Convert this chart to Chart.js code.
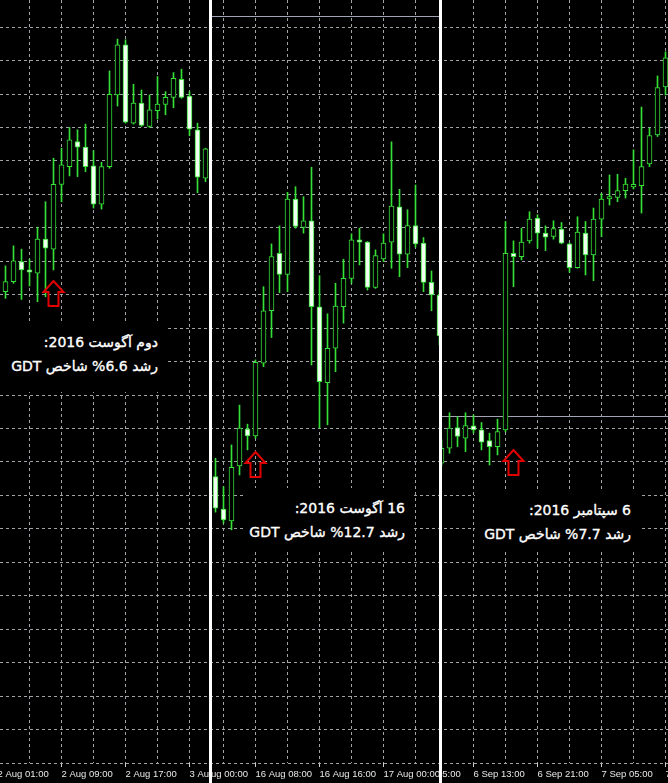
<!DOCTYPE html>
<html>
<head>
<meta charset="utf-8">
<script src="https://cdn.jsdelivr.net/npm/chart.js@4.4.1/dist/chart.umd.min.js"></script>
<style>
html,body{margin:0;padding:0;background:#000;}
#stage{position:relative;width:668px;height:783px;overflow:hidden;background:#000;}
.panel{position:absolute;top:0;height:783px;overflow:hidden;}
.panel canvas{position:absolute;top:0;}
.sep{position:absolute;top:0;width:3px;height:783px;background:#fff;}
.note{position:absolute;background:#000;color:#fff;direction:rtl;text-align:right;
  font-family:"DejaVu Sans",sans-serif;font-size:14px;line-height:24px;box-sizing:border-box;white-space:nowrap;
  -webkit-text-stroke:0.35px #fff;}
</style>
</head>
<body>
<div id="stage"></div>
<script>
// ---------- DATA ----------
// Panel 1: NZDUSD H1, 2 Aug 2016 (candle 0 = 2 Aug 02:00)
const aug2Open  = [0.71409,0.71439,0.71499,0.71474,0.71464,0.71566,0.71536,0.71730,0.71783,0.71858,0.71841,0.71785,0.71671,0.71783,0.71997,0.72147,0.71913,0.71973,0.71903,0.71950,0.71969,0.71990,0.72044,0.71994,0.71893,0.71748];
const aug2High  = [0.71486,0.71546,0.71536,0.71506,0.71602,0.71678,0.71808,0.71838,0.71900,0.71893,0.71910,0.71831,0.71796,0.72069,0.72164,0.72162,0.72029,0.72012,0.71997,0.72052,0.72007,0.72064,0.72074,0.72007,0.71913,0.71838];
const aug2Low   = [0.71389,0.71434,0.71386,0.71426,0.71379,0.71394,0.71474,0.71678,0.71755,0.71753,0.71768,0.71659,0.71656,0.71778,0.71964,0.71913,0.71910,0.71903,0.71900,0.71925,0.71938,0.71959,0.71987,0.71875,0.71705,0.71738];
const aug2Close = [0.71439,0.71501,0.71474,0.71467,0.71566,0.71539,0.71730,0.71788,0.71863,0.71841,0.71783,0.71671,0.71783,0.71999,0.72147,0.71916,0.71973,0.71906,0.71953,0.71970,0.71990,0.72047,0.71990,0.71895,0.71751,0.71836];
const aug2TickIdx  = [-1, 7, 15, 23, 31];
const aug2TickText = ['2 Aug 01:00','2 Aug 09:00','2 Aug 17:00','3 Aug 00:00','3 Aug 08:00'];

// Panel 2: 16 Aug 2016 (candle 0 = 16 Aug 03:00)
const aug16Open  = [0.71856,0.71759,0.71724,0.71888,0.71998,0.71978,0.72195,0.72352,0.72524,0.72461,0.72686,0.72601,0.72621,0.72364,0.72137,0.72240,0.72364,0.72449,0.72564,0.72557,0.72422,0.72507,0.72557,0.72663,0.72521,0.72607,0.72554,0.72437,0.72399];
const aug16High  = [0.71911,0.71826,0.71951,0.72070,0.72013,0.72205,0.72424,0.72552,0.72606,0.72706,0.72723,0.72693,0.72781,0.72457,0.72343,0.72434,0.72506,0.72582,0.72599,0.72559,0.72534,0.72582,0.72857,0.72715,0.72654,0.72728,0.72571,0.72471,0.72414];
const aug16Low   = [0.71750,0.71717,0.71697,0.71861,0.71936,0.71971,0.72185,0.72272,0.72406,0.72409,0.72599,0.72584,0.72190,0.72001,0.72011,0.72170,0.72315,0.72434,0.72489,0.72414,0.72419,0.72499,0.72479,0.72454,0.72481,0.72542,0.72409,0.72352,0.72250];
const aug16Close = [0.71762,0.71727,0.71884,0.72001,0.71978,0.72198,0.72352,0.72514,0.72461,0.72686,0.72604,0.72621,0.72364,0.72140,0.72240,0.72366,0.72449,0.72564,0.72557,0.72422,0.72517,0.72554,0.72665,0.72521,0.72607,0.72552,0.72437,0.72399,0.72277];
const aug16TickIdx  = [-3, 5, 13, 21, 29];
const aug16TickText = ['16 Aug 00:00','16 Aug 08:00','16 Aug 16:00','17 Aug 00:00','17 Aug 08:00'];

// Panel 3: 6 Sep 2016 (candle 0 = 6 Sep 09:00)
const sep6Open  = [0.72896,0.72941,0.73003,0.72971,0.73008,0.72996,0.72964,0.72946,0.72996,0.73524,0.73514,0.73561,0.73629,0.73584,0.73574,0.73596,0.73552,0.73481,0.73584,0.73519,0.73626,0.73686,0.73691,0.73711,0.73722,0.73726,0.73791,0.73878,0.74021];
const sep6High  = [0.72966,0.73047,0.73035,0.73047,0.73041,0.73018,0.72986,0.73028,0.73619,0.73561,0.73599,0.73648,0.73639,0.73606,0.73621,0.73616,0.73555,0.73633,0.73619,0.73659,0.73703,0.73758,0.73760,0.73748,0.73833,0.73961,0.73898,0.74054,0.74126];
const sep6Low   = [0.72888,0.72926,0.72946,0.72931,0.72986,0.72936,0.72891,0.72921,0.72990,0.73424,0.73504,0.73554,0.73539,0.73532,0.73566,0.73552,0.73467,0.73479,0.73459,0.73442,0.73574,0.73668,0.73678,0.73689,0.73716,0.73644,0.73783,0.73873,0.73997];
const sep6Close = [0.72941,0.73001,0.72976,0.73009,0.72996,0.72959,0.72946,0.72991,0.73524,0.73514,0.73557,0.73626,0.73584,0.73572,0.73598,0.73554,0.73481,0.73587,0.73519,0.73626,0.73686,0.73693,0.73711,0.73731,0.73730,0.73783,0.73876,0.74019,0.74108];
const sep6TickIdx  = [-4, 4, 12, 20, 28];
const sep6TickText = ['6 Sep 05:00','6 Sep 13:00','6 Sep 21:00','7 Sep 05:00','7 Sep 13:00'];

// Annotations
const priceFloor = [0.700, 0.710, 0.720];
const gridStep   = 0.001;
const arrowIdx   = [6, 5, 9];
const arrowPrice = [0.71442, 0.71931, 0.72936];
const levelPrice = [null, 0.73234, 0.73038];
const noteLine1  = ['دوم آگوست 2016:', '16 آگوست 2016:', '6 سپتامبر 2016:'];
const noteLine2  = ['رشد 6.6% شاخص GDT', 'رشد 12.7% شاخص GDT', 'رشد 7.7% شاخص GDT'];

// ---------- LAYOUT / STYLE ----------
const CANVAS_OFF = 60, CANVAS_W = 788, H = 783, AXIS_H = 20, PX_PER_BAR = 8, PX_PER_STEP = 33.45;
const GREEN = '#36e036', BEAR_FILL = '#f0fff0', BULL_FILL = '#000000';
const GRID = '#a0a4a8', LEVEL = '#a0a4b4', ARROW = '#e00000';
const layout = [
  {left:0,   width:209, firstX:5.5,   phase:3, note:{left:0,   top:323, width:167, height:69, padR:9,  padT:7}},
  {left:212, width:227, firstX:215.5, phase:1, note:{left:245, top:488, width:167, height:62, padR:7,  padT:8}},
  {left:442, width:226, firstX:441.5, phase:0, note:{left:475, top:490, width:167, height:60, padR:11, padT:8}}
];
const series = [
  {open:aug2Open, high:aug2High, low:aug2Low, close:aug2Close, tIdx:aug2TickIdx, tText:aug2TickText},
  {open:aug16Open, high:aug16High, low:aug16Low, close:aug16Close, tIdx:aug16TickIdx, tText:aug16TickText},
  {open:sep6Open, high:sep6High, low:sep6Low, close:sep6Close, tIdx:sep6TickIdx, tText:sep6TickText}
];

const stage = document.getElementById('stage');

function makePanel(n) {
  const p = layout[n], s = series[n];
  const div = document.createElement('div');
  div.className = 'panel';
  div.style.left = p.left + 'px';
  div.style.width = p.width + 'px';
  const cv = document.createElement('canvas');
  cv.width = CANVAS_W; cv.height = H;
  cv.style.left = (-(CANVAS_OFF + p.left)) + 'px';
  cv.style.width = CANVAS_W + 'px'; cv.style.height = H + 'px';
  div.appendChild(cv);
  stage.appendChild(div);

  const xMin = -(CANVAS_OFF + p.firstX) / PX_PER_BAR;
  const xMax = xMin + CANVAS_W / PX_PER_BAR;
  const floor = priceFloor[n];
  const yMax = floor + (H - AXIS_H) / PX_PER_STEP * gridStep;

  const wick = s.open.map((o, i) => ({x: i, y: [s.low[i], s.high[i]]}));
  const body = s.open.map((o, i) => ({x: i, y: [o, s.close[i]]}));
  const fill = s.open.map((o, i) => s.close[i] >= o ? BULL_FILL : BEAR_FILL);

  const marks = {
    id: 'marks' + n,
    beforeDatasetsDraw(chart) {
      const lv = levelPrice[n];
      if (lv == null) return;
      const ctx = chart.ctx, a = chart.chartArea;
      const y = Math.round(chart.scales.y.getPixelForValue(lv)) + 0.5;
      ctx.save();
      ctx.strokeStyle = LEVEL; ctx.lineWidth = 1;
      ctx.beginPath(); ctx.moveTo(a.left, y); ctx.lineTo(a.right, y); ctx.stroke();
      ctx.restore();
    },
    afterDatasetsDraw(chart) {
      const ctx = chart.ctx;
      const x = chart.scales.x.getPixelForValue(arrowIdx[n]);
      const y = Math.round(chart.scales.y.getPixelForValue(arrowPrice[n]));
      ctx.save();
      ctx.strokeStyle = ARROW; ctx.lineWidth = 2; ctx.lineJoin = 'miter';
      ctx.beginPath();
      ctx.moveTo(x, y);
      ctx.lineTo(x + 10, y + 11);
      ctx.lineTo(x + 5, y + 11);
      ctx.lineTo(x + 5, y + 25);
      ctx.lineTo(x - 5, y + 25);
      ctx.lineTo(x - 5, y + 11);
      ctx.lineTo(x - 10, y + 11);
      ctx.closePath();
      ctx.stroke();
      ctx.restore();
    }
  };

  new Chart(cv, {
    type: 'bar',
    data: {datasets: [
      {data: wick, backgroundColor: GREEN, borderWidth: 0, barThickness: 1, grouped: false, order: 2},
      {data: body, backgroundColor: fill, borderColor: GREEN, borderWidth: 1, borderSkipped: false,
       barThickness: 5, grouped: false, order: 1}
    ]},
    options: {
      responsive: false, animation: false, devicePixelRatio: 1, events: [],
      layout: {padding: 0, autoPadding: false},
      plugins: {legend: {display: false}, tooltip: {enabled: false}},
      scales: {
        x: {
          type: 'linear', min: xMin, max: xMax, offset: false, position: 'bottom',
          afterBuildTicks(sc) {
            const t = [];
            for (let v = Math.ceil(xMin); v <= xMax; v++) {
              if ((((v - p.phase) % 4) + 4) % 4 === 0) t.push({value: v});
            }
            sc.ticks = t;
          },
          afterFit(sc) { sc.height = AXIS_H; sc.paddingLeft = 0; sc.paddingRight = 0; },
          ticks: {
            autoSkip: false, maxRotation: 0, minRotation: 0, align: 'start', padding: 2,
            color: '#e8e8e8', font: {family: '"Liberation Sans", Arial, sans-serif', size: 9.5},
            callback(v) { const k = s.tIdx.indexOf(v); return k >= 0 ? s.tText[k] : ''; }
          },
          grid: {
            color: GRID, lineWidth: 1, offset: false, tickLength: 4, tickBorderDash: [],
            tickColor: (c) => (c.tick && s.tIdx.includes(c.tick.value)) ? '#cfcfcf' : 'rgba(0,0,0,0)'
          },
          border: {display: false, dash: [3, 3]}
        },
        y: {
          type: 'linear', min: floor, max: yMax, position: 'left', beginAtZero: false,
          afterBuildTicks(sc) {
            const t = [];
            for (let k = 0; floor + k * gridStep <= yMax + 1e-9; k++) t.push({value: floor + k * gridStep});
            sc.ticks = t;
          },
          afterFit(sc) { sc.width = 0; sc.paddingTop = 0; sc.paddingBottom = 0; },
          ticks: {display: false},
          grid: {color: GRID, lineWidth: 1, drawTicks: false},
          border: {display: false, dash: [3, 3]}
        }
      }
    },
    plugins: [marks]
  });

  const nb = document.createElement('div');
  nb.className = 'note';
  nb.style.left = p.note.left + 'px';
  nb.style.top = p.note.top + 'px';
  nb.style.width = p.note.width + 'px';
  nb.style.height = p.note.height + 'px';
  nb.style.paddingRight = p.note.padR + 'px';
  nb.style.paddingTop = p.note.padT + 'px';
  const l1 = document.createElement('div'); l1.textContent = noteLine1[n];
  const l2 = document.createElement('div'); l2.textContent = noteLine2[n];
  nb.appendChild(l1); nb.appendChild(l2);
  stage.appendChild(nb);
}

for (let n = 0; n < 3; n++) makePanel(n);

[209, 439].forEach(x => {
  const d = document.createElement('div');
  d.className = 'sep'; d.style.left = x + 'px';
  stage.appendChild(d);
});
</script>
</body>
</html>
